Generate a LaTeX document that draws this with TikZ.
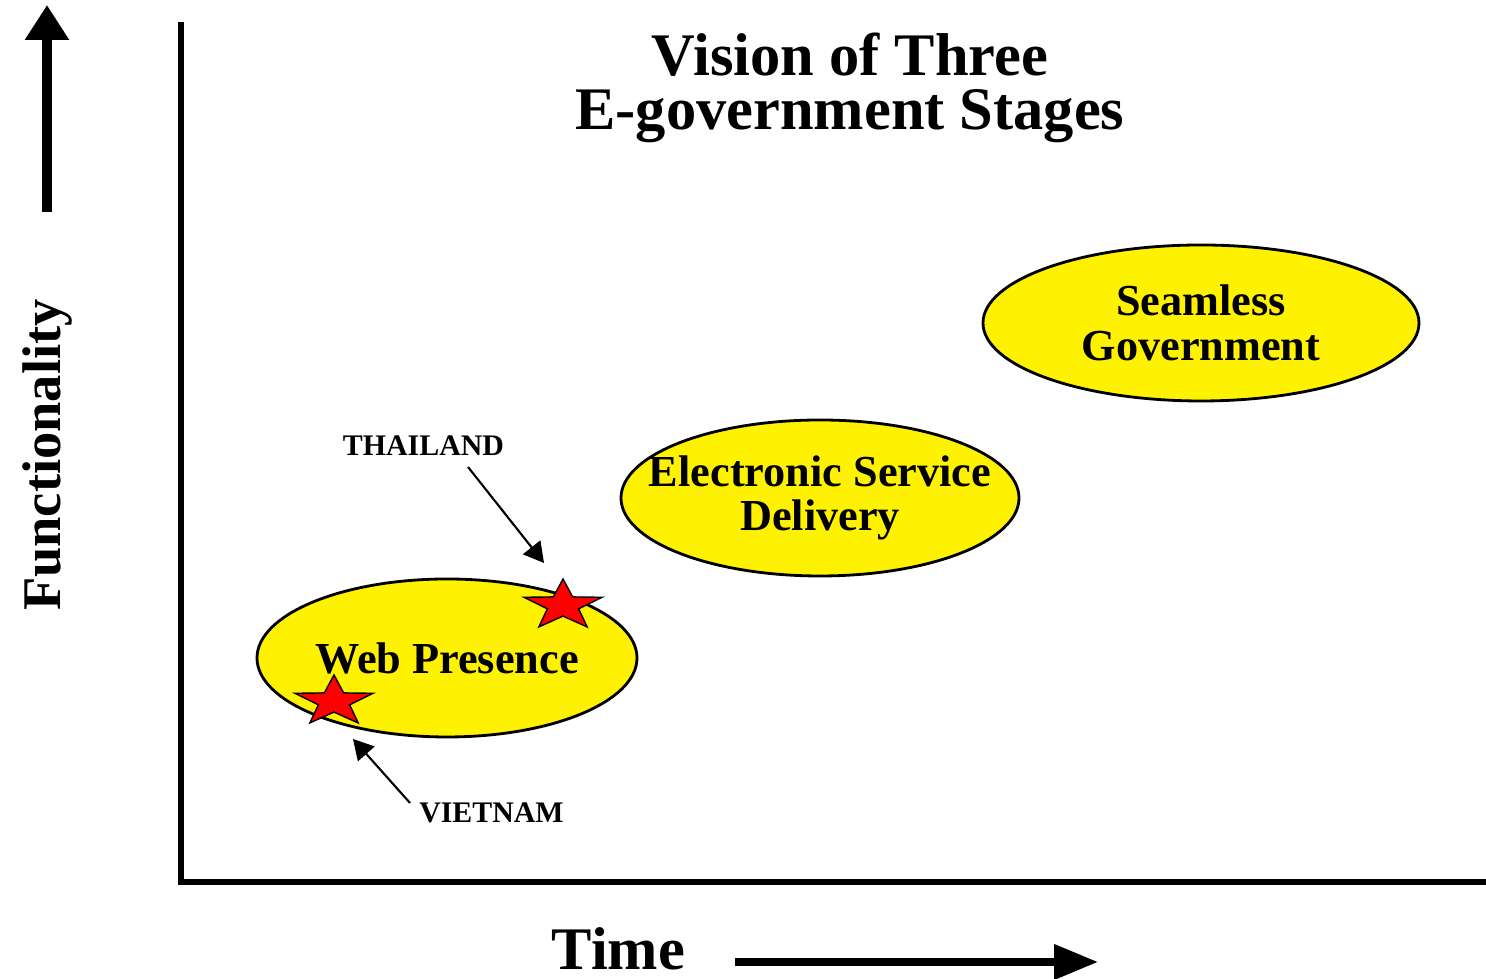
\documentclass[tikz,border=0pt]{standalone}
\usepackage{fontspec}
\setmainfont{Liberation Serif}
\usetikzlibrary{arrows.meta,shapes.geometric}
\begin{document}
\begin{tikzpicture}[
  stage/.style={ellipse,draw,thick,fill=yellow,align=center,inner ysep=0pt,inner xsep=-0.35cm,font=\fontsize{12.6}{12.6}\selectfont\bfseries},
  redstar/.style={star,star points=5,star point ratio=2.5,draw,fill=red,minimum size=5.3mm,inner sep=0pt,xscale=1.55,transform shape},
  ptr/.style={-{Triangle[length=2mm,width=2.2mm]},line width=0.6pt},
  country/.style={font=\fontsize{8.5}{10}\selectfont\bfseries},
  bigtext/.style={anchor=base,inner sep=0pt,font=\fontsize{17.2}{18}\selectfont\bfseries}]
\useasboundingbox (0,0) rectangle (14.86,9.79);
\draw[line width=1.8pt](1.81,9.57) -- (1.81,0.94);
\draw[line width=1.8pt](1.78,0.97) -- (14.86,0.97);
\draw[-{Triangle[length=3.5mm,width=4.2mm]},line width=2.7pt](0.47,7.67) -- (0.47,9.74);
\draw[-{Triangle[length=4.4mm,width=3.4mm]},line width=2.1pt](7.35,0.17) -- (10.98,0.17);
\node[bigtext] (title) at (8.5,9.03) {Vision of Three};
\node[bigtext] (subtitle) at (8.5,8.49) {E-government Stages};
\node[bigtext,rotate=90,font=\fontsize{15.5}{18}\selectfont\bfseries] (func) at (0.60,5.24) {Functionality};
\node[bigtext] (time) at (6.185,0.09) {Time};
\node[stage,minimum width=4.36cm,minimum height=1.56cm] (seam) at (12.01,6.56) {Seamless\\Government};
\node[stage,minimum width=3.98cm,minimum height=1.56cm] (esd) at (8.20,4.81) {Electronic Service\\Delivery};
\node[stage,minimum width=3.80cm,minimum height=1.58cm] (web) at (4.47,3.21) {Web Presence};
\node[redstar] (thstar) at (5.63,3.735) {};
\node[redstar] (vnstar) at (3.34,2.775) {};
\node[country] (thai) at (4.235,5.33) {THAILAND};
\node[country] (viet) at (4.915,1.66) {VIETNAM};
\coordinate (thfrom) at (4.68,5.12);
\coordinate (thto) at (5.44,4.16);
\coordinate (vnfrom) at (4.10,1.76);
\coordinate (vnto) at (3.53,2.40);
\draw[ptr](thfrom) -- (thto);
\draw[ptr](vnfrom) -- (vnto);
\end{tikzpicture}
\end{document}
